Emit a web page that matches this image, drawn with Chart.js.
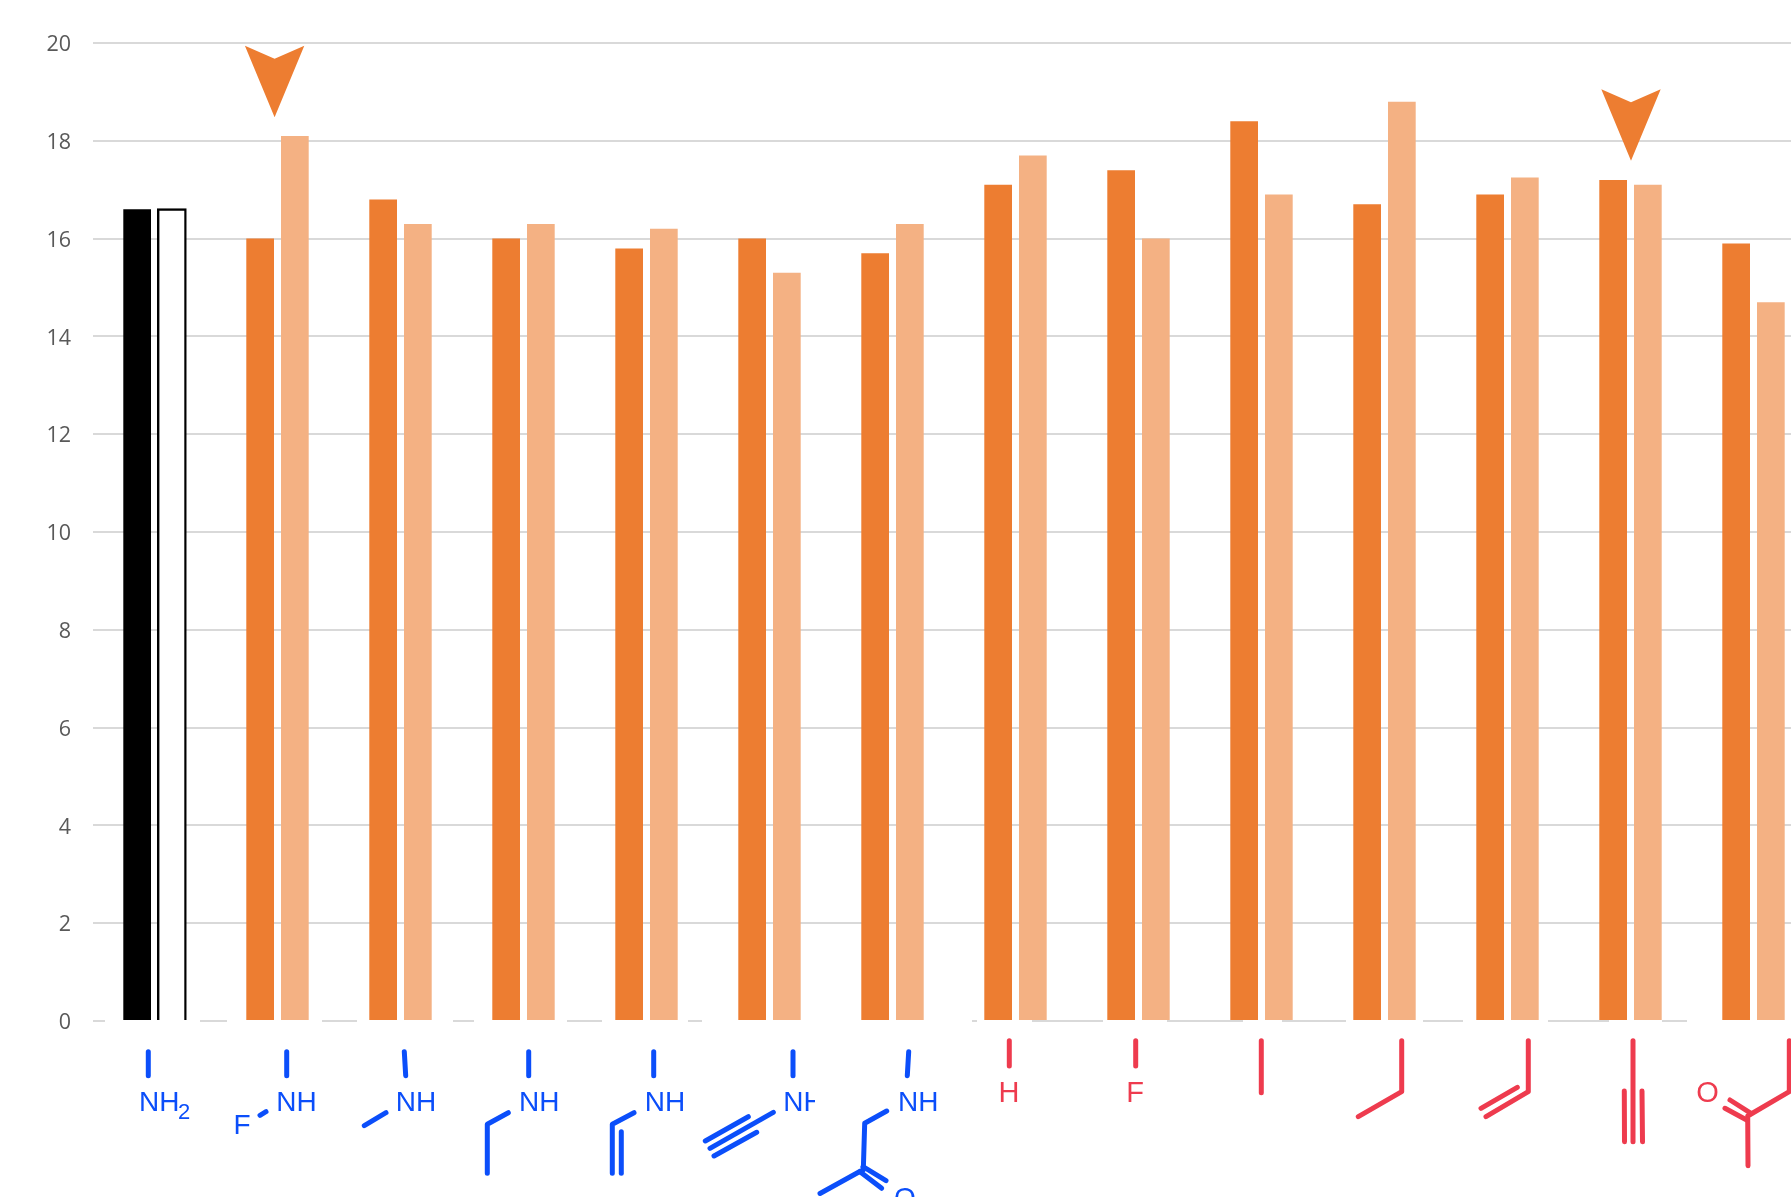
<!DOCTYPE html>
<html>
<head>
<meta charset="utf-8">
<style>
html,body{margin:0;padding:0;background:#fff;overflow:hidden;width:1791px;height:1197px}
#wrap{position:relative;width:1791px;height:1197px;overflow:hidden}
canvas{display:block}
</style>
<script src="https://cdn.jsdelivr.net/npm/chart.js@4/dist/chart.umd.min.js"></script>
</head>
<body>
<div id="wrap"><canvas id="c" width="1815" height="1197" style="width:1815px;height:1197px"></canvas></div>
<script>
// ---- data ----
const categories = ['NH2','NHF','NHMe','NHEt','NH-vinyl','NH-ethynyl','NH-acetonyl','H','F','Me','Et','vinyl','ethynyl','acetylethyl'];
const seriesA = [16.6,16.0,16.8,16.0,15.8,16.0,15.7,17.1,17.4,18.4,16.7,16.9,17.2,15.9];
const seriesB = [16.6,18.1,16.3,16.3,16.2,15.3,16.3,17.7,16.0,16.9,18.8,17.25,17.1,14.7];
const yTicks = [0,2,4,6,8,10,12,14,16,18,20];
const arrowCategories = [1,12];
const arrowTipValues = [18.48,17.59];

// ---- styles ----
const ORANGE='#ED7D31', LIGHT='#F4B183', BLUE='#0B4EFA', RED='#EE3B4E', GRID='#D9D9D9', TICK='#595959';

// Hand-drawn structure labels, in pixels relative to (category centre, zero line)
const structures = [
 {c:BLUE,l:[[[-6.2,30.7],[-6.2,54.7]]],t:[['NH',-15.5,89.7],['2',23.5,98.3,22]]},
 {c:BLUE,l:[[[9.2,30.7],[9.2,54.7]],[[-17.5,94.3],[-11.5,90.7]]],t:[['NH',-1.2,89.7],['F',-44,113.3]]},
 {c:BLUE,l:[[[3.8,30.7],[5.2,54.7]],[[-36.2,104.7],[-14.5,91.7]]],t:[['NH',-4.8,89.7]]},
 {c:BLUE,l:[[[5.2,30.7],[5.2,54.7]],[[-15.2,91.7],[-36.2,103.3],[-36.2,152.3]]],t:[['NH',-4.5,89.7]]},
 {c:BLUE,l:[[[7.2,30.7],[7.2,54.7]],[[-12.5,91.7],[-34.2,103.3],[-34.2,152.3]],[[-25.2,110.7],[-25.2,152.3]]],t:[['NH',-1.8,89.7]]},
 {c:BLUE,l:[[[23.5,30.7],[23.5,54.7]],[[3.8,91.3],[-59.5,127.3]],[[-21.2,95.7],[-64.2,120]],[[-12.8,111.3],[-55.5,135]]],t:[['NH',13.8,89.7]],clipRight:45.5},
 {c:BLUE,l:[[[16.2,30.7],[14.8,54.7]],[[-5.8,90],[-27.8,102.3],[-29.2,149]],[[-31.8,150],[-72.5,172.5]],[[-29.5,145.7],[-6.5,159.7]],[[-32.5,150.7],[-10.8,167.3]]],t:[['NH',5.5,89.7],['O',1.5,186]]},
 {c:RED,l:[[[-6.2,19.7],[-6.2,45]]],t:[['H',-17,80.7,29]]},
 {c:RED,l:[[[-2.8,19.7],[-2.8,45]]],t:[['F',-12.3,80.7,29]]},
 {c:RED,l:[[[-0.2,19.7],[-0.2,71.7]]],t:[]},
 {c:RED,l:[[[17.2,19.7],[17.2,70.7],[-26.2,95.7]]],t:[]},
 {c:RED,l:[[[20.8,19.7],[20.8,70.7],[-21.5,95.7]],[[9.8,66.3],[-26.5,87.3]]],t:[]},
 {c:RED,l:[[[2.5,19.7],[2.5,120.7]],[[-6.2,70],[-6,120.7]],[[11.5,70],[12,120.7]]],t:[]},
 {c:RED,l:[[[35.8,19.7],[35.8,70.7],[-5.8,95],[-5.5,144.7]],[[-2.5,92.3],[-23.5,79]],[[-6.8,99],[-28.5,87.3]]],t:[['O',-57.3,80.7,29]]}
];
const arrowNudge = [-2.9,0.5];
// Pieces of the zero line left visible in the reference (canvas pixels)
const zeroLinePieces = [[93,105],[200,227],[322,357],[453,474],[567,602],[688,702],[972,977],[1032,1103],[1167,1243],[1282,1346],[1423,1463],[1548,1609],[1662,1687]];

const zeroLinePlugin = {
  id:'zeroLine',
  beforeDatasetsDraw(chart){
    const ctx=chart.ctx, y=chart.scales.y.getPixelForValue(0);
    ctx.save(); ctx.strokeStyle=GRID; ctx.lineWidth=2;
    zeroLinePieces.forEach(p=>{ctx.beginPath();ctx.moveTo(p[0],y);ctx.lineTo(p[1],y);ctx.stroke();});
    ctx.restore();
  }
};
const overlayPlugin = {
  id:'overlay',
  afterDatasetsDraw(chart){
    const ctx=chart.ctx, X=chart.scales.x, Y=chart.scales.y, y0=Y.getPixelForValue(0);
    arrowCategories.forEach((cat,i)=>{
      const x=X.getPixelForValue(cat)+arrowNudge[i], y=Y.getPixelForValue(arrowTipValues[i]);
      ctx.save(); ctx.fillStyle=ORANGE; ctx.beginPath();
      ctx.moveTo(x,y); ctx.lineTo(x-29.7,y-71.7); ctx.lineTo(x,y-58.7); ctx.lineTo(x+29.7,y-71.7);
      ctx.closePath(); ctx.fill(); ctx.restore();
    });
    structures.forEach((s,i)=>{
      const cx=X.getPixelForValue(i);
      ctx.save(); ctx.translate(cx,y0);
      ctx.strokeStyle=s.c; ctx.fillStyle=s.c;
      ctx.lineWidth=5; ctx.lineCap='round'; ctx.lineJoin='round';
      s.l.forEach(path=>{
        ctx.beginPath(); path.forEach((p,k)=>k?ctx.lineTo(p[0],p[1]):ctx.moveTo(p[0],p[1])); ctx.stroke();
      });
      if(s.clipRight!==undefined){ctx.beginPath();ctx.rect(-200,0,200+s.clipRight,300);ctx.clip();}
      ctx.textAlign='left'; ctx.textBaseline='alphabetic';
      s.t.forEach(t=>{
        const size=t[3]||28;
        ctx.font=size+'px "Liberation Sans"';
        ctx.fillText(t[0],t[1],t[2]);
      });
      ctx.restore();
    });
  }
};

new Chart(document.getElementById('c'),{
  type:'bar',
  data:{
    labels:categories,
    datasets:[
      {label:'A',data:seriesA,
       backgroundColor:ctx=>ctx.dataIndex===0?'#000000':ORANGE,
       borderWidth:0,inflateAmount:0,
       clip:{left:false,top:false,right:false,bottom:-1}},
      {label:'B',data:seriesB,
       backgroundColor:ctx=>ctx.dataIndex===0?'#FFFFFF':LIGHT,
       borderColor:'#000000',
       borderWidth:ctx=>ctx.dataIndex===0?{top:2.4,left:2.4,right:2.4,bottom:0}:0,
       borderSkipped:false,
       inflateAmount:ctx=>ctx.dataIndex===0?1:0,
       clip:{left:false,top:false,right:false,bottom:-1}}
    ]
  },
  plugins:[zeroLinePlugin,overlayPlugin],
  options:{
    responsive:false,animation:false,devicePixelRatio:1,
    categoryPercentage:69.4/123,
    barPercentage:27.7/34.7,
    layout:{padding:{top:43,bottom:176,left:0,right:0}},
    plugins:{legend:{display:false},title:{display:false},tooltip:{enabled:false}},
    scales:{
      x:{display:false,grid:{display:false}},
      y:{
        min:0,max:20,
        afterFit(s){s.width=93;},
        afterBuildTicks(s){s.ticks=yTicks.map(v=>({value:v}));},
        border:{display:false},
        grid:{color:c=>c.tick&&c.tick.value===0?'rgba(0,0,0,0)':GRID,lineWidth:2,drawTicks:false},
        ticks:{padding:22,labelOffset:2,color:TICK,font:{family:'"Open Sans"',size:21.5}}
      }
    }
  }
});
</script>
</body>
</html>
